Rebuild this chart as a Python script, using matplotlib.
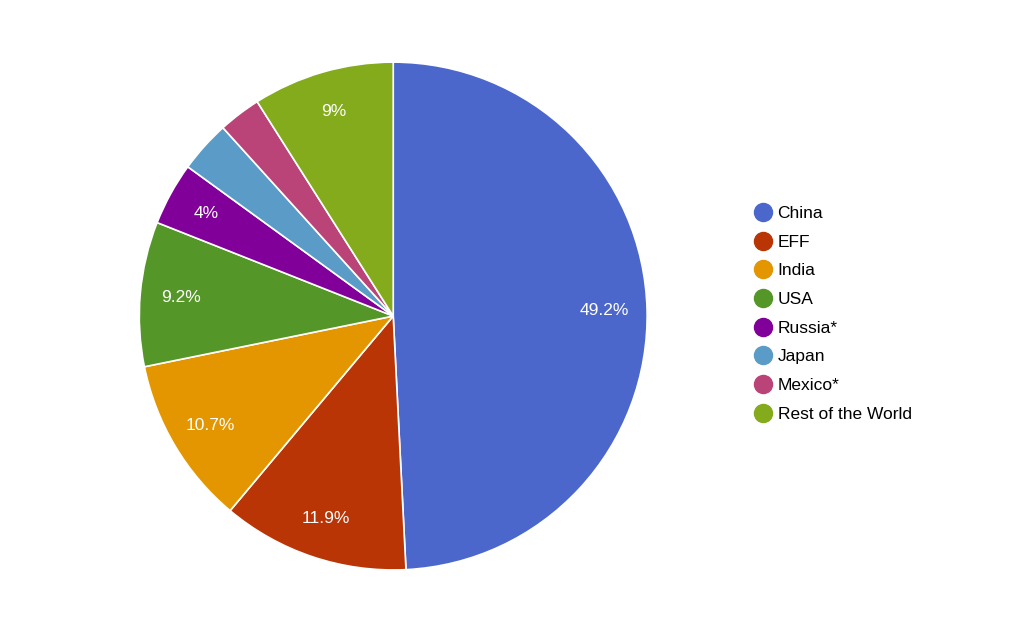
import matplotlib
matplotlib.use("Agg")
import matplotlib.pyplot as plt
from matplotlib.lines import Line2D
import numpy as np

categories = ["China", "EFF", "India", "USA", "Russia*", "Japan", "Mexico*", "Rest of the World"]
values = [49.2, 11.9, 10.7, 9.2, 4.0, 3.3, 2.7, 9.0]
labels = ["49.2%", "11.9%", "10.7%", "9.2%", "4%", "", "", "9%"]
colors = ["#4B67CC", "#BA3505", "#E39600", "#559629", "#81009A", "#5A9CC7", "#BA4478", "#83AB1B"]

plt.rcParams['font.family'] = ['Liberation Sans', 'DejaVu Sans']
fig = plt.figure(figsize=(10.24, 6.34), dpi=100)
ax = fig.add_axes([0.136, 0.101, 0.496, 0.801])
wedges, _ = ax.pie(values, colors=colors, startangle=90, counterclock=False,
                   wedgeprops=dict(edgecolor="white", linewidth=1.2))
for w, lab in zip(wedges, labels):
    if not lab:
        continue
    ang = np.deg2rad((w.theta1 + w.theta2) / 2)
    r = 0.84 if lab != "49.2%" else 0.83
    ax.text(r * np.cos(ang), r * np.sin(ang), lab, color="white", fontsize=12.5,
            ha="center", va="center")
ax.set_aspect("equal")
ax.set_xlim(-1, 1)
ax.set_ylim(-1, 1)

handles = [Line2D([], [], marker="o", linestyle="", markersize=13,
                  markerfacecolor=c, markeredgecolor=c) for c in colors]
fig.legend(handles, categories, loc="upper left", bbox_to_anchor=(0.717, 0.7),
           frameon=False, fontsize=12.5, handletextpad=0.1, labelspacing=0.78,
           handlelength=1.5)
fig.savefig("out.png", dpi=100)
